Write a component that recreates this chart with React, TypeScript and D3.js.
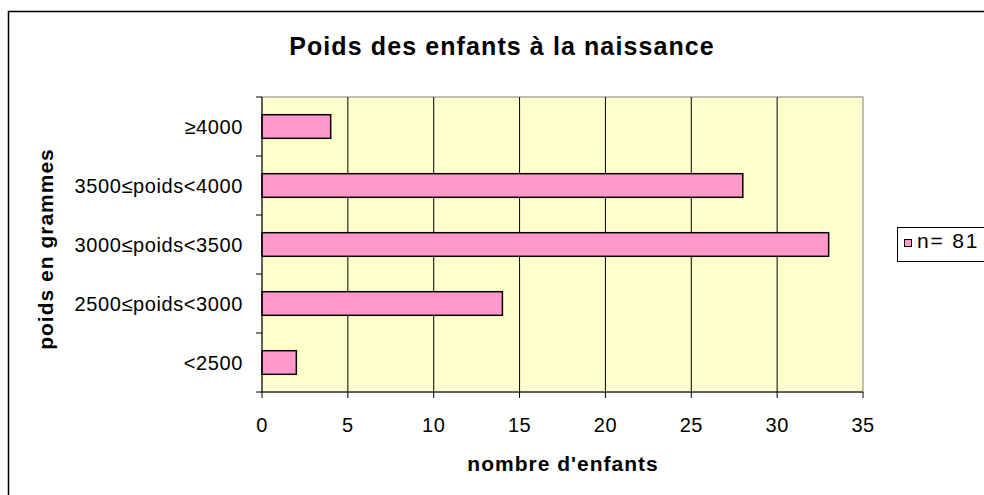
import React from "react";
import * as d3 from "d3";

const categories = ["<2500", "2500≤poids<3000", "3000≤poids<3500", "3500≤poids<4000", "≥4000"];
const values = [2, 14, 33, 28, 4];
const xTicks = [0, 5, 10, 15, 20, 25, 30, 35];
const seriesName = "n= 81";
const title = "Poids des enfants à la naissance";
const xTitle = "nombre d'enfants";
const yTitle = "poids en grammes";

export default function App() {
  const W = 984, H = 495;
  const left = 262, right = 863, top = 97, bottom = 392;
  const x = d3.scaleLinear().domain([0, 35]).range([left, right]);
  const yOrder = [...categories].reverse();
  const y = d3.scaleBand().domain(yOrder).range([top, bottom]).paddingInner(0.6).paddingOuter(0.3);
  const band = (bottom - top) / categories.length;
  const font = "Arial, 'Liberation Sans', sans-serif";
  return (
    <svg width={W} height={H} style={{ position: "absolute", left: 0, top: 0, fontFamily: font }}>
      <rect x={8.5} y={11.5} width={W} height={H} fill="#fff" stroke="#000" strokeWidth={1.5} />
      <text x={502} y={55} textAnchor="middle" fontSize={25} fontWeight="bold" letterSpacing={1.1}>{title}</text>
      <rect x={left} y={top} width={right - left} height={bottom - top} fill="#FFFFCC" stroke="#808080" strokeWidth={1} />
      {xTicks.slice(1, -1).map((t) => (
        <line key={t} x1={x(t)} x2={x(t)} y1={top} y2={bottom} stroke="#000" strokeWidth={1} />
      ))}
      {categories.map((c, i) => (
        <rect key={c} x={x(0)} y={y(c)!} width={x(values[i]) - x(0)} height={y.bandwidth()}
          fill="#FF99CC" stroke="#000" strokeWidth={1.5} />
      ))}
      <line x1={left} x2={left} y1={top} y2={bottom} stroke="#000" strokeWidth={1} />
      <line x1={left} x2={right} y1={bottom} y2={bottom} stroke="#000" strokeWidth={1} />
      {d3.range(categories.length + 1).map((i) => (
        <line key={i} x1={left - 6} x2={left} y1={top + i * band} y2={top + i * band} stroke="#000" />
      ))}
      {xTicks.map((t) => (
        <g key={t}>
          <line x1={x(t)} x2={x(t)} y1={bottom} y2={bottom + 6} stroke="#000" />
          <text x={x(t)} y={432} textAnchor="middle" fontSize={20} letterSpacing={0.5}>{t}</text>
        </g>
      ))}
      {categories.map((c) => (
        <text key={c} x={243} y={y(c)! + y.bandwidth() / 2 + 7} textAnchor="end" fontSize={20} letterSpacing={0.6}>{c}</text>
      ))}
      <text x={563} y={471} textAnchor="middle" fontSize={21} fontWeight="bold" letterSpacing={1}>{xTitle}</text>
      <text transform={`translate(53,249) rotate(-90)`} textAnchor="middle" fontSize={21} fontWeight="bold" letterSpacing={1}>{yTitle}</text>
      <rect x={897.5} y={227.5} width={100} height={34} fill="#fff" stroke="#000" strokeWidth={1} />
      <rect x={904.5} y={239.5} width={7} height={7} fill="#FF99CC" stroke="#000" strokeWidth={1} />
      <text x={917} y={248} fontSize={21} letterSpacing={1.8}>{seriesName}</text>
    </svg>
  );
}
